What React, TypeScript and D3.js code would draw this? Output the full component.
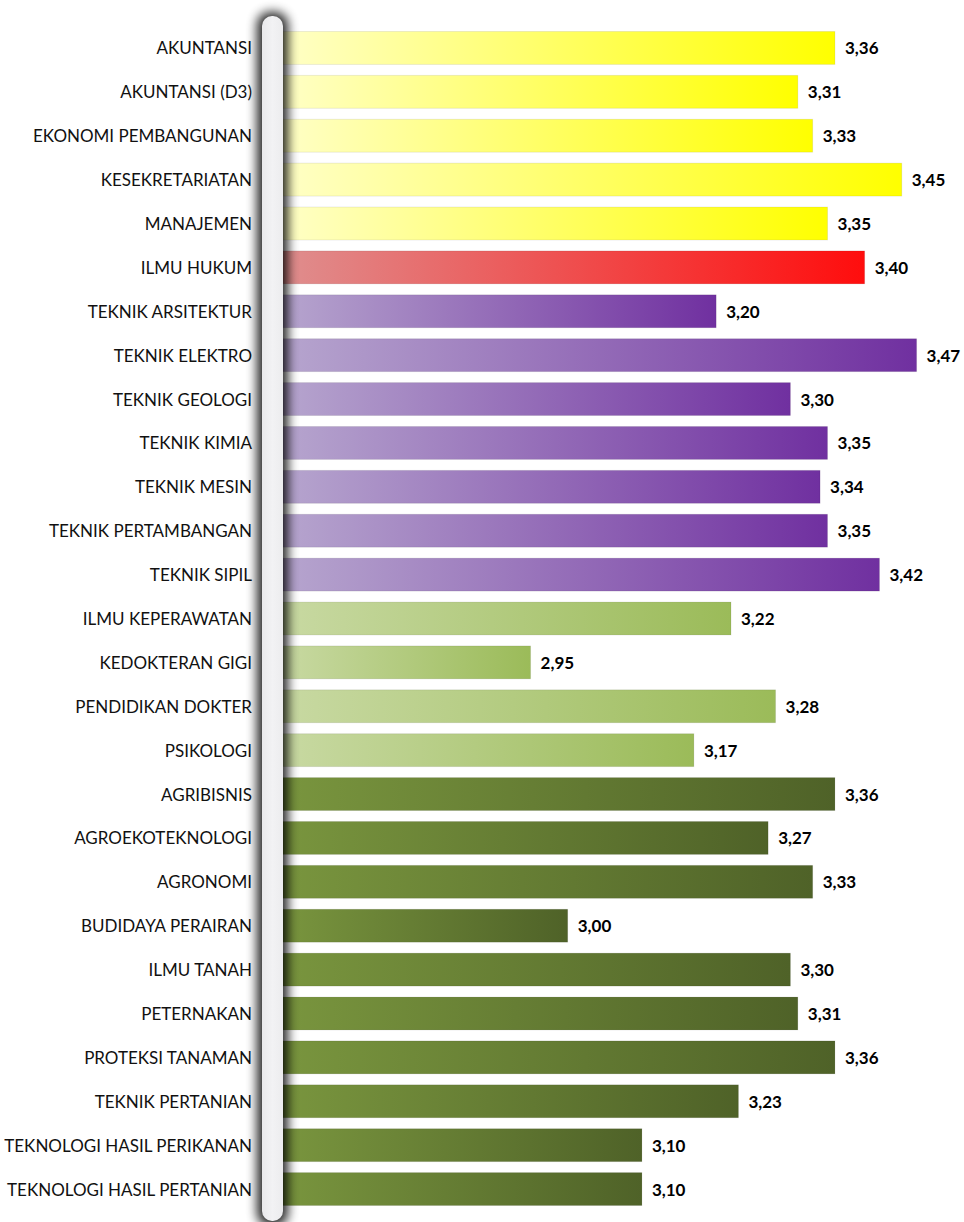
import React from "react";
import * as d3 from "d3";

const categories = [
  "AKUNTANSI", "AKUNTANSI (D3)", "EKONOMI PEMBANGUNAN", "KESEKRETARIATAN", "MANAJEMEN",
  "ILMU HUKUM",
  "TEKNIK ARSITEKTUR", "TEKNIK ELEKTRO", "TEKNIK GEOLOGI", "TEKNIK KIMIA", "TEKNIK MESIN",
  "TEKNIK PERTAMBANGAN", "TEKNIK SIPIL",
  "ILMU KEPERAWATAN", "KEDOKTERAN GIGI", "PENDIDIKAN DOKTER", "PSIKOLOGI",
  "AGRIBISNIS", "AGROEKOTEKNOLOGI", "AGRONOMI", "BUDIDAYA PERAIRAN", "ILMU TANAH",
  "PETERNAKAN", "PROTEKSI TANAMAN", "TEKNIK PERTANIAN", "TEKNOLOGI HASIL PERIKANAN",
  "TEKNOLOGI HASIL PERTANIAN",
];
const values = [
  3.36, 3.31, 3.33, 3.45, 3.35,
  3.40,
  3.20, 3.47, 3.30, 3.35, 3.34, 3.35, 3.42,
  3.22, 2.95, 3.28, 3.17,
  3.36, 3.27, 3.33, 3.00, 3.30, 3.31, 3.36, 3.23, 3.10, 3.10,
];
const groups = [
  "yellow", "yellow", "yellow", "yellow", "yellow",
  "red",
  "purple", "purple", "purple", "purple", "purple", "purple", "purple",
  "lgreen", "lgreen", "lgreen", "lgreen",
  "dgreen", "dgreen", "dgreen", "dgreen", "dgreen", "dgreen", "dgreen", "dgreen", "dgreen", "dgreen",
];
const groupColors: Record<string, [string, string]> = {
  yellow: ["#FFFFC6", "#FFFF00"],
  red: ["#DF8E8E", "#FF0D0D"],
  purple: ["#B6A5CE", "#7030A0"],
  lgreen: ["#C8D9A2", "#9BBB59"],
  dgreen: ["#79953E", "#4F6228"],
};

const W = 964;
const H = 1222;

export default function App() {
  const x = d3.scaleLinear().domain([2.6165, 3.47]).range([283, 916.6]);
  const y = d3.scaleBand<string>().domain(categories).range([26, 1211]).padding(0);
  const step = y.step();
  const bh = step * 0.75;
  const fmt = (v: number) => d3.format(".2f")(v).replace(".", ",");

  return (
    <svg
      width={W}
      height={H}
      style={{ position: "absolute", left: 0, top: 0, background: "#fff" }}
      fontFamily="Lato, 'Open Sans', sans-serif"
    >
      <defs>
        {Object.entries(groupColors).map(([k, [c0, c1]]) => (
          <linearGradient key={k} id={`g-${k}`} x1="0" x2="1" y1="0" y2="0">
            <stop offset="0" stopColor={c0} />
            <stop offset="1" stopColor={c1} />
          </linearGradient>
        ))}
        <filter id="blur" x="-3" y="-0.1" width="7" height="1.2">
          <feGaussianBlur stdDeviation="5.5" />
        </filter>
        <linearGradient id="pill" x1="0" x2="1" y1="0" y2="0">
          <stop offset="0" stopColor="#E9E9EB" />
          <stop offset="0.5" stopColor="#F2F2F4" />
          <stop offset="1" stopColor="#ECECEE" />
        </linearGradient>
      </defs>

      {categories.map((c, i) => {
        const yy = (y(c) as number) + (step - bh) / 2;
        const x1 = x(values[i]);
        return (
          <g key={c}>
            <rect
              x={x(2.6165)}
              y={yy}
              width={x1 - x(2.6165)}
              height={bh}
              fill={`url(#g-${groups[i]})`}
              stroke="rgba(0,0,0,0.08)"
              strokeWidth={1}
            />
            <text
              x={252}
              y={yy + bh / 2}
              textAnchor="end"
              dominantBaseline="central"
              fontSize={17}
              fill="#111"
            >
              {c}
            </text>
            <text
              x={x1 + 10}
              y={yy + bh / 2}
              dominantBaseline="central"
              fontSize={17}
              fontWeight="bold"
              fill="#000"
            >
              {fmt(values[i])}
            </text>
          </g>
        );
      })}

      <rect x={257} y={12} width={31} height={1214} rx={13} fill="#000" opacity={0.85} filter="url(#blur)" />
      <rect x={262} y={16} width={21} height={1205} rx={10} fill="url(#pill)" />
    </svg>
  );
}
